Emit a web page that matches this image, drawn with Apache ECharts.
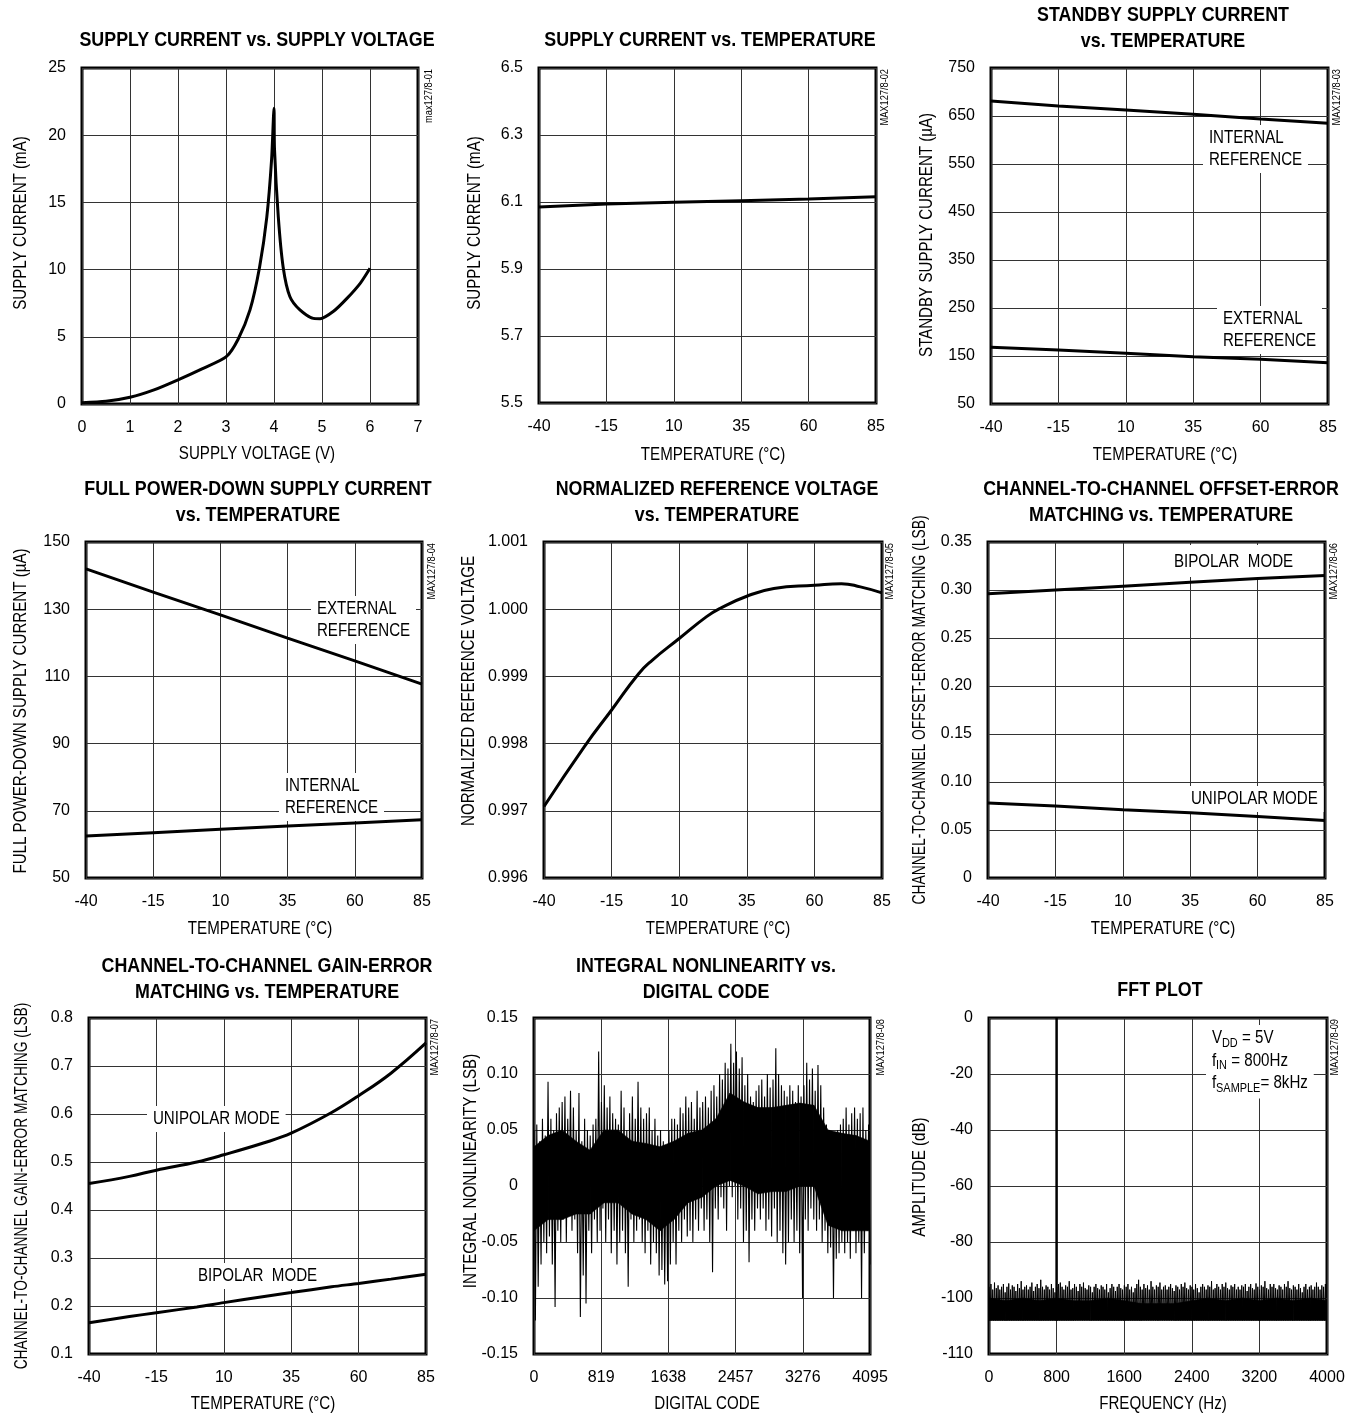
<!DOCTYPE html>
<html><head><meta charset="utf-8">
<script src="https://cdn.jsdelivr.net/npm/echarts@6/dist/echarts.min.js"></script>
<style>html,body{margin:0;padding:0;background:#fff}#c{width:1367px;height:1426px}</style>
</head><body><div id="c"></div>
<script>
const FONT = "'Liberation Sans', Arial, Helvetica, sans-serif";
const NARROW = 0.84; // horizontal squeeze to imitate the condensed face of the original

// ---------- DATA ----------
const tempTicks = [-40, -15, 10, 35, 60, 85];

// 1 supply current vs supply voltage
const supplyVoltage = [0, 0.5, 1, 1.5, 2, 2.5, 3, 3.25, 3.5, 3.7, 3.85, 3.95, 4.0, 4.01, 4.09, 4.19, 4.33, 4.54, 4.82, 4.96, 5.24, 5.52, 5.8, 6.0];
const supplyCurrentV = [0.1, 0.2, 0.5, 1.05, 1.8, 2.62, 3.5, 4.8, 7.0, 10.2, 13.9, 18.2, 22.0, 19.0, 13.9, 10.2, 8.0, 7.0, 6.37, 6.35, 6.9, 7.86, 9.0, 10.1];

// 2 supply current vs temperature
const supplyCurrentT = [6.085, 6.094, 6.099, 6.104, 6.109, 6.116];

// 3 standby supply current
const standbyInternal = [681, 671, 662.5, 653.5, 643.7, 635];
const standbyExternal = [168, 162.5, 155.6, 148.6, 143, 136];

// 4 full power-down supply current
const pdExternal = [142, 135.1, 128.3, 121.4, 114.6, 107.7];
const pdInternal = [62.5, 63.5, 64.5, 65.5, 66.4, 67.3];

// 5 normalized reference voltage
const refTemps = [-40, -25, -15, -5, 0, 10, 20, 25, 35, 45, 60, 70, 77, 85];
const refVoltage = [0.997064, 0.99796, 0.9985, 0.99904, 0.99924, 0.999564, 0.999886, 1.00001, 1.000193, 1.000307, 1.000356, 1.00038, 1.000332, 1.000243];

// 6 offset-error matching
const offsetBipolar = [0.296, 0.300, 0.304, 0.308, 0.312, 0.315];
const offsetUnipolar = [0.078, 0.075, 0.071, 0.068, 0.064, 0.060];

// 7 gain-error matching
const gainTemps = [-40, -25, -15, 0, 10, 25, 35, 50, 60, 72, 85];
const gainUnipolar = [0.455, 0.47, 0.483, 0.5, 0.515, 0.54, 0.56, 0.603, 0.638, 0.685, 0.748];
const gainBipolar = [0.165, 0.178, 0.186, 0.198, 0.207, 0.22, 0.228, 0.24, 0.247, 0.256, 0.266];

// 8 INL vs digital code
// dense core of the trace (upper / lower edge), read every ~171 codes
const inlCoreCodes = [0, 171, 341, 512, 683, 853, 1024, 1194, 1365, 1536, 1706, 1877, 2048, 2218, 2389, 2559, 2730, 2900, 3071, 3241, 3412, 3583, 3753, 3924, 4095];
const inlCoreUpper = [0.035, 0.045, 0.05, 0.04, 0.032, 0.05, 0.05, 0.04, 0.038, 0.035, 0.04, 0.047, 0.05, 0.06, 0.083, 0.075, 0.07, 0.07, 0.072, 0.074, 0.072, 0.05, 0.047, 0.045, 0.04];
const inlCoreLower = [-0.04, -0.03, -0.03, -0.025, -0.025, -0.015, -0.015, -0.025, -0.03, -0.04, -0.03, -0.015, -0.01, 0.0, 0.005, 0.0, -0.007, -0.005, -0.005, 0.0, 0.0, -0.035, -0.04, -0.04, -0.04];
// individual excursions (alternating peaks/valleys across the code range)
const inlValues = [
 0.05,-0.12,0.055,-0.09,0.04,-0.07,0.06,-0.05,0.045,-0.06,0.093,-0.045,0.06,-0.07,0.05,-0.108,0.065,-0.04,0.07,-0.05,
 0.075,-0.03,0.08,-0.05,0.06,-0.02,0.085,-0.04,0.07,-0.03,0.05,-0.06,0.083,-0.117,0.04,-0.08,0.06,-0.105,0.05,-0.04,
 0.045,-0.06,0.055,-0.03,0.06,-0.05,0.12,-0.04,0.075,-0.02,0.09,-0.05,0.07,-0.03,0.08,-0.06,0.065,-0.04,0.06,-0.07,
 0.055,-0.05,0.085,-0.04,0.07,-0.06,0.05,-0.09,0.065,-0.03,0.08,-0.05,0.06,-0.04,0.093,-0.03,0.07,-0.05,0.06,-0.06,
 0.065,-0.04,0.07,-0.07,0.05,-0.05,0.06,-0.06,0.045,-0.08,0.05,-0.075,0.04,-0.088,0.035,-0.085,0.05,-0.07,0.06,-0.05,
 0.06,-0.07,0.055,-0.04,0.07,-0.05,0.065,-0.03,0.08,-0.045,0.07,-0.04,0.075,-0.05,0.06,-0.03,0.085,-0.04,0.07,-0.02,
 0.075,-0.04,0.08,-0.03,0.07,-0.05,0.085,-0.077,0.09,-0.02,0.08,-0.03,0.1,-0.01,0.095,-0.02,0.11,-0.04,0.105,0.0,
 0.127,-0.01,0.11,0.0,0.12,-0.03,0.105,-0.02,0.115,-0.05,0.09,-0.04,0.1,-0.068,0.08,-0.03,0.075,-0.04,0.085,-0.02,
 0.09,-0.03,0.095,-0.02,0.08,-0.04,0.1,-0.03,0.088,-0.045,0.095,-0.02,0.123,-0.05,0.1,-0.04,0.09,-0.06,0.085,-0.07,
 0.08,-0.05,0.09,-0.03,0.085,-0.05,0.075,-0.04,0.09,-0.06,0.08,-0.1,0.09,-0.03,0.11,-0.04,0.095,-0.02,0.105,-0.03,
 0.085,-0.04,0.108,-0.03,0.09,-0.05,0.07,-0.04,0.055,-0.06,0.05,-0.055,0.045,-0.1,0.04,-0.065,0.05,-0.06,0.055,-0.05,
 0.06,-0.06,0.07,-0.05,0.055,-0.065,0.065,-0.04,0.07,-0.06,0.06,-0.05,0.065,-0.1,0.07,-0.06,0.05,-0.04,0.055,-0.07
];

// 9 FFT plot (dB)
const fftFundamentalHz = 800;
const fftFundamentalDb = 0;
const fftFloorDb = -104;
const fftCoreHz = [0, 200, 400, 600, 800, 1000, 1200, 1400, 1600, 1800, 2000, 2200, 2400, 2600, 2800, 3000, 3200, 3400, 3600, 3800, 4000];
const fftCoreTopDb = [-100, -100.5, -100, -100.5, -100, -100.5, -100.5, -100, -100.5, -101, -101, -101, -100.5, -100, -100.5, -100, -100.5, -100, -100.5, -100, -100.5];
const fftPeaksDb = [
 -96,-95,-97,-94.5,-96.5,-95.5,-97,-96,-95,-98,-96,-94.8,-97,-95.5,-96,-97.5,-95,-96.5,-94,-97,
 -96,-95.5,-97,-96,-94.5,-97.5,-96,-95,-96.5,-93.5,-96,-97,-95.5,-96,-97,-95,-96.5,-98,-96,-95,
 -94.5,-96,-97,-95.5,-96,-94,-97,-96.5,-95,-96,-97.5,-95,-96,-94.5,-96.5,-97,-95.5,-96,-98,-96,
 -95,-96.5,-97,-95.5,-96,-97,-95,-98,-96.5,-95,-96,-97.5,-96,-95,-96.5,-97,-95.5,-96,-95,-97,
 -96,-98,-96.5,-95,-93.5,-96,-97,-95,-96.5,-95.5,-97,-94,-96,-97,-95.5,-96,-94.5,-97,-96,-95.5,
 -97,-96,-95,-96.5,-97.5,-95.5,-96,-97,-95,-96,-94.5,-96.5,-97,-95.5,-96,-97,-95,-96.5,-98,-96,
 -95,-96,-97,-95.5,-96,-94,-97,-96.5,-95,-96,-97,-95,-96,-94.5,-96.5,-97,-95.5,-96,-95,-97,
 -96,-97,-95.5,-96,-95,-97.5,-96,-95,-96.5,-97,-94.8,-96,-97,-95.5,-96,-94,-96.5,-97,-95,-96,
 -95,-96.5,-97,-95.5,-96,-97,-95,-96,-94,-96.5,-97,-95.5,-96,-97,-95,-96.5,-98,-96,-95,-97,
 -96,-95.5,-97,-96,-94.5,-96,-97,-95.5,-96,-95
];

// ---------- HELPERS ----------
// FFT axis: 20 dB per division down to -100, then the last division spans only 10 dB
function fftPos(db) { return db >= -100 ? db : -100 + (db + 100) * 2; }
function fftLabel(p) { return p <= -100 ? String(Math.round(-100 + (p + 100) / 2)) : String(Math.round(p)); }

const grids = [
  {left: 82,  top: 68,   width: 336, height: 336},
  {left: 539, top: 68,   width: 337, height: 335},
  {left: 991, top: 68,   width: 337, height: 336},
  {left: 86,  top: 542,  width: 336, height: 336},
  {left: 544, top: 542,  width: 338, height: 336},
  {left: 988, top: 542,  width: 337, height: 336},
  {left: 89,  top: 1018, width: 337, height: 336},
  {left: 534, top: 1018, width: 336, height: 336},
  {left: 989, top: 1018, width: 338, height: 336}
].map(g => Object.assign(g, {show: true, borderColor: '#000', borderWidth: 3, backgroundColor: 'rgba(0,0,0,0)'}));

const gridLine = {show: true, lineStyle: {color: '#333', width: 1}};
const lbl = {color: '#000', fontSize: 16, fontFamily: FONT};

function xAx(i, min, max, interval, fmt) {
  return {type: 'value', gridIndex: i, min, max, interval,
    axisLine: {show: false}, axisTick: {show: false},
    axisLabel: Object.assign({margin: 16, formatter: fmt, showMinLabel: true, showMaxLabel: true}, lbl), splitLine: gridLine};
}
function yAx(i, min, max, interval, fmt) {
  return {type: 'value', gridIndex: i, min, max, interval,
    axisLine: {show: false}, axisTick: {show: false},
    axisLabel: Object.assign({margin: 16, formatter: fmt, showMinLabel: true, showMaxLabel: true}, lbl), splitLine: gridLine};
}
const fi = v => String(Math.round(v));
const f1 = v => v.toFixed(1);
const f2 = v => Math.abs(v) < 1e-9 ? '0' : v.toFixed(2);
const f3 = v => v.toFixed(3);

const xAxes = [
  xAx(0, 0, 7, 1, fi),
  xAx(1, -40, 85, 25, fi),
  xAx(2, -40, 85, 25, fi),
  xAx(3, -40, 85, 25, fi),
  xAx(4, -40, 85, 25, fi),
  xAx(5, -40, 85, 25, fi),
  xAx(6, -40, 85, 25, fi),
  xAx(7, 0, 4095, 819, fi),
  xAx(8, 0, 4000, 800, fi)
];
const yAxes = [
  yAx(0, 0, 25, 5, fi),
  yAx(1, 5.5, 6.5, 0.2, f1),
  yAx(2, 50, 750, 100, fi),
  yAx(3, 50, 150, 20, fi),
  yAx(4, 0.996, 1.001, 0.001, f3),
  yAx(5, 0, 0.35, 0.05, f2),
  yAx(6, 0.1, 0.8, 0.1, f1),
  yAx(7, -0.15, 0.15, 0.05, f2),
  yAx(8, -120, 0, 20, fftLabel)
];

function zip(xs, ys) { return xs.map((x, k) => [x, ys[k]]); }
function line(i, data, width, smooth) {
  return {type: 'line', xAxisIndex: i, yAxisIndex: i, data, showSymbol: false, symbol: 'none',
    smooth: smooth || false, lineStyle: {color: '#000', width: width || 3}, z: 3, animation: false, silent: true};
}
// solid band between a lower and an upper edge, drawn segment by segment through the axes
function band(i, xs, lows, highs) {
  const data = [];
  for (let k = 0; k < xs.length - 1; k++) data.push([xs[k], lows[k], highs[k], xs[k + 1], lows[k + 1], highs[k + 1]]);
  return {type: 'custom', xAxisIndex: i, yAxisIndex: i, data, silent: true, z: 3, animation: false, clip: true,
    encode: {x: [0, 3], y: [1, 2, 4, 5]},
    renderItem(params, api) {
      const pts = [
        api.coord([api.value(0), api.value(1)]), api.coord([api.value(3), api.value(4)]),
        api.coord([api.value(3), api.value(5)]), api.coord([api.value(0), api.value(2)])
      ];
      return {type: 'polygon', shape: {points: pts}, style: {fill: '#000', stroke: '#000', lineWidth: 0.6}};
    }};
}

const inlData = inlValues.map((v, k) => [Math.round(k * 4095 / (inlValues.length - 1)), v]);
const fftData = [];
const fftStep = 4000 / fftPeaksDb.length;
fftPeaksDb.forEach((v, k) => {
  fftData.push([k * fftStep + 2, fftPos(v)]);
  fftData.push([k * fftStep + fftStep / 2 + 2, fftPos(fftFloorDb)]);
});

const series = [
  line(0, zip(supplyVoltage, supplyCurrentV), 3, 0.25),
  line(1, zip(tempTicks, supplyCurrentT), 3),
  line(2, zip(tempTicks, standbyInternal), 3),
  line(2, zip(tempTicks, standbyExternal), 3),
  line(3, zip(tempTicks, pdExternal), 3),
  line(3, zip(tempTicks, pdInternal), 3),
  line(4, zip(refTemps, refVoltage), 3, 0.5),
  line(5, zip(tempTicks, offsetBipolar), 3),
  line(5, zip(tempTicks, offsetUnipolar), 3),
  line(6, zip(gainTemps, gainUnipolar), 3, 0.4),
  line(6, zip(gainTemps, gainBipolar), 3, 0.3),
  band(7, inlCoreCodes, inlCoreLower, inlCoreUpper),
  line(7, inlData, 1.1),
  band(8, fftCoreHz, fftCoreHz.map(() => fftPos(fftFloorDb)), fftCoreTopDb.map(fftPos)),
  line(8, fftData, 1),
  line(8, [[fftFundamentalHz, fftPos(fftFloorDb)], [fftFundamentalHz, fftPos(fftFundamentalDb)]], 2.5)
];

// ---------- TEXT (titles, axis names, annotations, figure tags) ----------
const graphics = [];
function title(cx, y, text) {
  graphics.push({type: 'text', x: cx, y, scaleX: 0.85, z: 5, silent: true,
    style: {text, font: 'bold 21px ' + FONT, fill: '#000', textAlign: 'center', textVerticalAlign: 'top', lineHeight: 26}});
}
title(257, 27, 'SUPPLY CURRENT vs. SUPPLY VOLTAGE');
title(710, 27, 'SUPPLY CURRENT vs. TEMPERATURE');
title(1163, 2, 'STANDBY SUPPLY CURRENT\nvs. TEMPERATURE');
title(258, 476, 'FULL POWER-DOWN SUPPLY CURRENT\nvs. TEMPERATURE');
title(717, 476, 'NORMALIZED REFERENCE VOLTAGE\nvs. TEMPERATURE');
title(1161, 476, 'CHANNEL-TO-CHANNEL OFFSET-ERROR\nMATCHING vs. TEMPERATURE');
title(267, 953, 'CHANNEL-TO-CHANNEL GAIN-ERROR\nMATCHING vs. TEMPERATURE');
title(706, 953, 'INTEGRAL NONLINEARITY vs.\nDIGITAL CODE');
title(1160, 977, 'FFT PLOT');

function xName(cx, cy, text) {
  graphics.push({type: 'text', x: cx, y: cy, scaleX: NARROW, z: 5, silent: true,
    style: {text, font: '18px ' + FONT, fill: '#000', textAlign: 'center', textVerticalAlign: 'middle'}});
}
function yName(cx, cy, text, sx) {
  graphics.push({type: 'text', x: cx, y: cy, rotation: Math.PI / 2, scaleX: sx || NARROW, z: 5, silent: true,
    style: {text, font: '18px ' + FONT, fill: '#000', textAlign: 'center', textVerticalAlign: 'middle'}});
}
xName(257, 454, 'SUPPLY VOLTAGE (V)');
xName(713, 455, 'TEMPERATURE (°C)');
xName(1165, 455, 'TEMPERATURE (°C)');
xName(260, 929, 'TEMPERATURE (°C)');
xName(718, 929, 'TEMPERATURE (°C)');
xName(1163, 929, 'TEMPERATURE (°C)');
xName(263, 1404, 'TEMPERATURE (°C)');
xName(707, 1404, 'DIGITAL CODE');
xName(1163, 1404, 'FREQUENCY (Hz)');
yName(21, 223, 'SUPPLY CURRENT (mA)');
yName(475, 223, 'SUPPLY CURRENT (mA)');
yName(927, 235, 'STANDBY SUPPLY CURRENT (µA)');
yName(21, 711, 'FULL POWER-DOWN SUPPLY CURRENT (µA)');
yName(469, 691, 'NORMALIZED REFERENCE VOLTAGE');
yName(920, 710, 'CHANNEL-TO-CHANNEL OFFSET-ERROR MATCHING (LSB)', 0.77);
yName(22, 1186, 'CHANNEL-TO-CHANNEL GAIN-ERROR MATCHING (LSB)', 0.765);
yName(471, 1171, 'INTEGRAL NONLINEARITY (LSB)');
yName(920, 1177, 'AMPLITUDE (dB)');

function note(x, y, text, pad) {
  graphics.push({type: 'text', x, y, scaleX: NARROW, z: 1, silent: true,
    style: {text, font: '18px ' + FONT, fill: '#000', textAlign: 'left', textVerticalAlign: 'top',
      lineHeight: 22, backgroundColor: '#fff', padding: pad || [2, 7, 2, 7]}});
}
note(1203, 125, 'INTERNAL\nREFERENCE');
note(1217, 306, 'EXTERNAL\nREFERENCE');
note(311, 596, 'EXTERNAL\nREFERENCE');
note(279, 773, 'INTERNAL\nREFERENCE');
note(1168, 545, 'BIPOLAR  MODE', [6, 7, 4, 7]);
note(1185, 786, 'UNIPOLAR MODE');
note(147, 1106, 'UNIPOLAR MODE');
note(192, 1263, 'BIPOLAR  MODE');

graphics.push({type: 'text', x: 1206, y: 1025, scaleX: NARROW, z: 1, silent: true,
  style: {text: 'V{s|DD} = 5V\nf{s|IN} = 800Hz\nf{s|SAMPLE}= 8kHz', font: '18px ' + FONT, fill: '#000',
    textAlign: 'left', textVerticalAlign: 'top', lineHeight: 22.5, backgroundColor: '#fff', padding: [2, 7, 4, 7],
    rich: {s: {fontSize: 13, fontFamily: FONT, lineHeight: 12, verticalAlign: 'bottom', fill: '#000'}}}});

const tagX = [429, 885, 1337, 432, 890, 1334, 435, 881, 1335];
const tagText = ['max127/8-01', 'MAX127/8-02', 'MAX127/8-03', 'MAX127/8-04', 'MAX127/8-05', 'MAX127/8-06', 'MAX127/8-07', 'MAX127/8-08', 'MAX127/8-09'];
const tagTop = [69, 69, 69, 543, 543, 543, 1019, 1019, 1019];
tagText.forEach((t, k) => {
  graphics.push({type: 'text', x: tagX[k], y: tagTop[k], rotation: Math.PI / 2, scaleX: NARROW, z: 5, silent: true,
    style: {text: t, font: '11px ' + FONT, fill: '#000', textAlign: 'right', textVerticalAlign: 'middle'}});
});

const chart = echarts.init(document.getElementById('c'), null, {renderer: 'canvas'});
chart.setOption({
  backgroundColor: '#fff',
  animation: false,
  grid: grids,
  xAxis: xAxes,
  yAxis: yAxes,
  series,
  graphic: {elements: graphics}
});
</script></body></html>
